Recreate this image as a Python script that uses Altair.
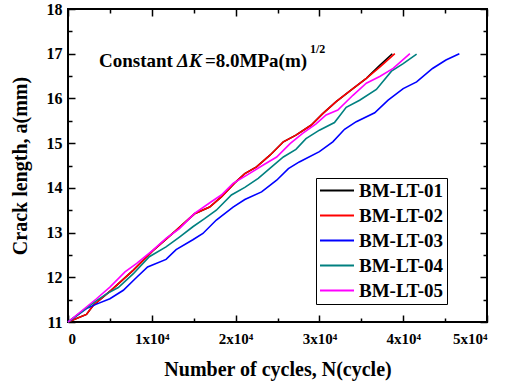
import altair as alt
import pandas as pd

# Crack growth under constant Delta-K: crack length a (mm) vs number of cycles N
SERIES = ["BM-LT-01", "BM-LT-02", "BM-LT-03", "BM-LT-04", "BM-LT-05"]
COLORS = ["#000000", "#ff0000", "#0000ff", "#008080", "#ff00ff"]

cycles_01 = [0, 2200, 3000, 5200, 7800, 10100, 12900, 15100, 16900, 18300, 19900, 21100,
             22500, 24100, 25700, 27200, 29000, 30400, 32000, 34000, 35600, 37200, 38700]
crack_01 = [11.0, 11.17, 11.37, 11.72, 12.16, 12.59, 13.05, 13.42, 13.57, 13.8, 14.11, 14.32,
            14.47, 14.73, 15.03, 15.18, 15.4, 15.66, 15.93, 16.22, 16.45, 16.74, 17.0]

cycles_02 = [0, 2200, 3000, 5200, 7800, 10100, 12900, 15100, 16900, 18300, 19900, 21100,
             22500, 24100, 25700, 27200, 29000, 30400, 32000, 34000, 35600, 37200, 39000]
crack_02 = [11.0, 11.17, 11.37, 11.72, 12.16, 12.59, 13.05, 13.42, 13.57, 13.8, 14.11, 14.32,
            14.47, 14.73, 15.03, 15.18, 15.4, 15.66, 15.93, 16.22, 16.45, 16.7, 17.0]

cycles_03 = [0, 2200, 3400, 5000, 6600, 8200, 9500, 11700, 12900, 14900, 16100, 17700, 19700,
             21100, 23100, 24900, 26300, 27600, 30000, 31600, 33000, 34400, 36600, 38200, 40000,
             41600, 43500, 45100, 46700]
crack_03 = [11.0, 11.3, 11.4, 11.52, 11.71, 12.0, 12.23, 12.4, 12.62, 12.84, 12.98, 13.28, 13.57,
            13.74, 13.91, 14.17, 14.43, 14.58, 14.81, 15.03, 15.31, 15.48, 15.68, 15.96, 16.22,
            16.37, 16.67, 16.86, 17.0]

cycles_04 = [0, 3400, 4600, 6000, 7800, 9700, 11700, 13300, 14900, 16300, 17700, 19500, 21100,
             22700, 24300, 25700, 27200, 28400, 30000, 31800, 33200, 34800, 36800, 38600, 40000,
             41600]
crack_04 = [11.0, 11.48, 11.63, 11.77, 12.08, 12.46, 12.68, 12.9, 13.13, 13.31, 13.5, 13.84, 14.01,
            14.21, 14.47, 14.69, 14.86, 15.1, 15.29, 15.46, 15.8, 15.96, 16.2, 16.61, 16.78, 16.99]

cycles_05 = [0, 3400, 5000, 6800, 8200, 10100, 11700, 13300, 15100, 17100, 18300, 19700, 21300,
             23300, 24900, 26500, 28000, 29600, 30800, 32200, 34000, 35600, 37200, 38800, 40800]
crack_05 = [11.0, 11.52, 11.78, 12.12, 12.31, 12.6, 12.87, 13.09, 13.43, 13.69, 13.84, 14.1, 14.28,
            14.51, 14.69, 14.99, 15.22, 15.43, 15.63, 15.74, 16.07, 16.34, 16.49, 16.67, 17.0]

X_MAJOR = [0, 10000, 20000, 30000, 40000, 50000]
X_MINOR = [5000, 15000, 25000, 35000, 45000]
Y_MAJOR = [11, 12, 13, 14, 15, 16, 17, 18]
Y_MINOR = [11.5, 12.5, 13.5, 14.5, 15.5, 16.5, 17.5]

all_cycles = [cycles_01, cycles_02, cycles_03, cycles_04, cycles_05]
all_crack = [crack_01, crack_02, crack_03, crack_04, crack_05]

rows = []
for name, ns, avals in zip(SERIES, all_cycles, all_crack):
    for i, (n, a) in enumerate(zip(ns, avals)):
        rows.append({"series": name, "N": n, "a": a, "idx": i})
df = pd.DataFrame(rows)

FONT = "Liberation Serif"
W, H = 419, 313

xscale = alt.Scale(domain=[0, 50000], nice=False)
yscale = alt.Scale(domain=[11, 18], nice=False, zero=False)


def blank_axis(orient, values, size):
    return alt.Axis(orient=orient, values=values, labels=False, title=None, domain=False,
                    grid=False, tickColor="black", tickWidth=1.5,
                    tickSize={"expr": str(-size)})


lines = alt.Chart(df).mark_line(strokeWidth=1.6).encode(
    x=alt.X("N:Q", scale=xscale, axis=alt.Axis(
        orient="bottom", values=X_MAJOR, domain=False, grid=False,
        tickColor="black", tickWidth=1.5, tickSize={"expr": "-7"},
        labelPadding=16, labelFontSize=15, labelFontWeight="bold",
        labelColor="black",
        labelExpr="datum.value == 0 ? '0' : format(datum.value / 10000, 'd') + 'x10\u2074'",
        title="Number of cycles, N(cycle)", titleFontSize=20,
        titleFontWeight="bold", titleColor="black", titlePadding=13)),
    y=alt.Y("a:Q", scale=yscale, axis=alt.Axis(
        orient="left", values=Y_MAJOR, domain=False, grid=False,
        tickColor="black", tickWidth=1.5, tickSize={"expr": "-7"},
        labelPadding=13, labelFontSize=16, labelFontWeight="bold",
        labelColor="black", format="d",
        title="Crack length, a(mm)", titleFontSize=20,
        titleFontWeight="bold", titleColor="black", titlePadding=16)),
    color=alt.Color("series:N", scale=alt.Scale(domain=SERIES, range=COLORS),
                    legend=alt.Legend(
                        orient="none", legendX=248, legendY=169, title=None,
                        strokeColor="black", padding=3, rowPadding=5,
                        symbolType="M-1,0H3", symbolSize=289, symbolStrokeWidth=2,
                        labelOffset=21, labelFontSize=19,
                        labelFontWeight="bold", labelColor="black")),
    order="idx:Q",
)


def ticks_layer(x_axis, y_axis):
    return alt.Chart(df).mark_point(opacity=0).encode(
        x=alt.X("N:Q", scale=xscale, axis=x_axis),
        y=alt.Y("a:Q", scale=yscale, axis=y_axis),
    )


minor_ticks = ticks_layer(blank_axis("bottom", X_MINOR, 4), blank_axis("left", Y_MINOR, 4))
far_major = ticks_layer(blank_axis("top", X_MAJOR, 7), blank_axis("right", Y_MAJOR, 7))
far_minor = ticks_layer(blank_axis("top", X_MINOR, 4), blank_axis("right", Y_MINOR, 4))

# Annotation: Constant ΔK = 8.0 MPa(m)^1/2
note_df = pd.DataFrame({"N": [3700], "a": [16.70]})


def note(text, dx, dy=0, size=19, style="normal"):
    return alt.Chart(note_df).mark_text(
        text=text, align="left", baseline="alphabetic", dx=dx, dy=dy,
        fontSize=size, fontWeight="bold", fontStyle=style, color="black",
    ).encode(
        x=alt.X("N:Q", scale=xscale, axis=None),
        y=alt.Y("a:Q", scale=yscale, axis=None),
    )


notes = [
    note("Constant", 0),
    note("\u0394K", 78, style="italic"),
    note("=8.0MPa(m)", 106),
    note("1/2", 211, dy=-14, size=12),
]

chart = alt.layer(lines, minor_ticks, far_major, far_minor, *notes).resolve_axis(
    x="independent", y="independent"
).properties(
    width=W, height=H,
    background="white",
    autosize=alt.AutoSizeParams(type="none"),
    padding={"left": 68, "top": 9, "right": 18, "bottom": 63},
).configure(
    font=FONT,
    view=alt.ViewConfig(stroke="black", strokeWidth=2),
    axis=alt.AxisConfig(labelFont=FONT, titleFont=FONT),
    legend=alt.LegendConfig(labelFont=FONT, titleFont=FONT),
    text=alt.MarkConfig(font=FONT),
)

chart.save("out.html", embed_options={"renderer": "svg", "actions": False})
